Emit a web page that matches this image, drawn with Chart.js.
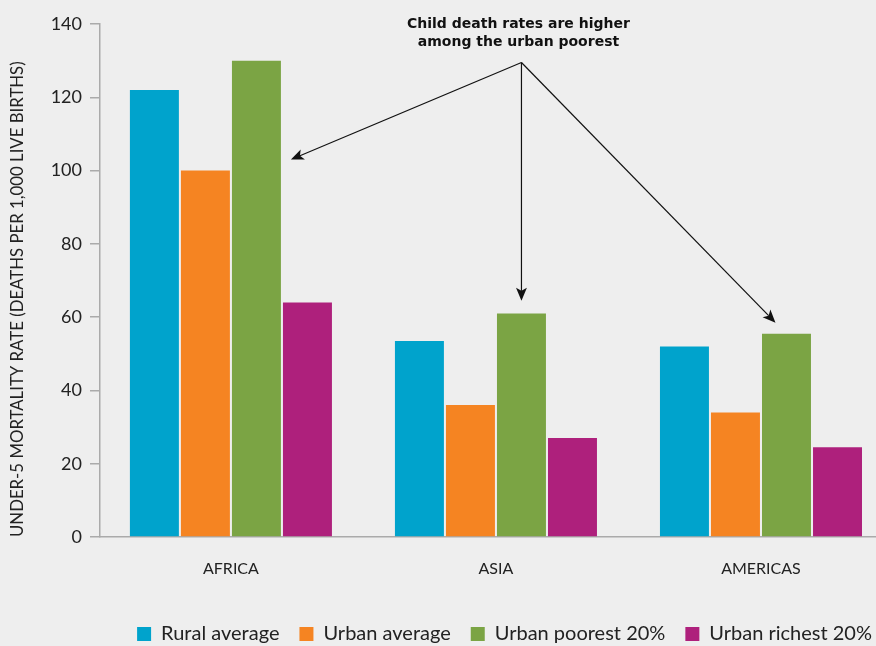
<!DOCTYPE html>
<html>
<head>
<meta charset="utf-8">
<script src="https://cdn.jsdelivr.net/npm/chart.js@4.4.0/dist/chart.umd.min.js"></script>
<style>
  html, body { margin: 0; padding: 0; background: #eeeeee; }
  #wrap { width: 876px; height: 646px; }
</style>
</head>
<body>
<div id="wrap"><canvas id="chart"></canvas></div>
<script>
const regions = ["AFRICA", "ASIA", "AMERICAS"]
const ruralAverage = [122, 53.5, 52]
const urbanAverage = [100, 36, 34]
const urbanPoorest = [130, 61, 55.5]
const urbanRichest = [64, 27, 24.5]
const yTicks = [0, 20, 40, 60, 80, 100, 120, 140]

const FONT = "Lato, 'Open Sans', sans-serif"
const TEXT = "#222222"
const AXIS = "#aaaaaa"

const toPoints = (arr) => arr.map((v, i) => ({ x: i, y: v }))

// callout text and the three arrows, anchored to the green bars
const calloutPlugin = {
    id: "callout",
    afterLayout(chart) {
        // legend in the original runs flush to the right edge
        chart.legend.left += 16
        chart.legend.right += 16
    },
    afterDraw(chart) {
        const ctx = chart.ctx
        const y = chart.scales.y
        const green = chart.getDatasetMeta(2).data
        const apex = { x: green[1].x, y: y.getPixelForValue(129.5) }
        const targets = [
            { x: green[0].x + green[0].width / 2 + 10, y: y.getPixelForValue(103) },
            { x: green[1].x, y: y.getPixelForValue(64.5) },
            { x: green[2].x - 11, y: y.getPixelForValue(58.5) }
        ]

        ctx.save()
        ctx.fillStyle = "#111"
        ctx.font = "bold 14px 'DejaVu Sans', sans-serif"
        ctx.textAlign = "center"
        ctx.textBaseline = "middle"
        ctx.fillText("Child death rates are higher", apex.x - 3, 24)
        ctx.fillText("among the urban poorest", apex.x - 3, 42)

        ctx.strokeStyle = "#111"
        ctx.lineWidth = 1.2
        targets.forEach(t => {
            const ang = Math.atan2(t.y - apex.y, t.x - apex.x)
            const len = 14
            const back = { x: t.x - Math.cos(ang) * len * 0.7, y: t.y - Math.sin(ang) * len * 0.7 }
            ctx.beginPath()
            ctx.moveTo(apex.x, apex.y)
            ctx.lineTo(back.x, back.y)
            ctx.stroke()
            ctx.beginPath()
            ctx.moveTo(t.x, t.y)
            ctx.lineTo(t.x - Math.cos(ang - 0.4) * len, t.y - Math.sin(ang - 0.4) * len)
            ctx.lineTo(back.x, back.y)
            ctx.lineTo(t.x - Math.cos(ang + 0.4) * len, t.y - Math.sin(ang + 0.4) * len)
            ctx.closePath()
            ctx.fill()
        })
        ctx.restore()
    }
}

const bgPlugin = {
    id: "bg",
    beforeDraw(chart) {
        const ctx = chart.ctx
        ctx.save()
        ctx.fillStyle = "#eeeeee"
        ctx.fillRect(0, 0, chart.width, chart.height)
        ctx.restore()
    }
}

const ctx = document.getElementById("chart").getContext("2d")
const chart = new Chart(ctx, {
    type: "bar",
    data: {
        datasets: [
            { label: "Rural average", data: toPoints(ruralAverage), backgroundColor: "#00a3cc" },
            { label: "Urban average", data: toPoints(urbanAverage), backgroundColor: "#f58422" },
            { label: "Urban poorest 20%", data: toPoints(urbanPoorest), backgroundColor: "#7ba444" },
            { label: "Urban richest 20%", data: toPoints(urbanRichest), backgroundColor: "#ae207c" }
        ]
    },
    options: {
        responsive: true,
        maintainAspectRatio: false,
        animation: false,
        datasets: {
            bar: { categoryPercentage: 0.77, barPercentage: 0.96, borderWidth: 0 }
        },
        layout: { padding: { top: 24, right: 0, bottom: -8, left: 0 } },
        plugins: {
            tooltip: { enabled: false },
            legend: {
                position: "bottom",
                align: "end",
                labels: {
                    boxWidth: 14,
                    boxHeight: 14,
                    padding: 20,
                    color: TEXT,
                    font: { family: FONT, size: 20 }
                }
            }
        },
        scales: {
            x: {
                type: "linear",
                offset: false,
                min: -0.494,
                max: 2.434,
                grid: { display: false, offset: false },
                border: { display: true, color: AXIS, width: 1.5 },
                afterBuildTicks: (scale) => { scale.ticks = regions.map((r, i) => ({ value: i })) },
                ticks: {
                    padding: 14,
                    color: TEXT,
                    font: { family: FONT, size: 16 },
                    maxRotation: 0,
                    callback: (v) => regions[v]
                },
                afterFit: (scale) => { scale.height = 67 }
            },
            y: {
                min: 0,
                max: 140,
                afterBuildTicks: (scale) => { scale.ticks = yTicks.map(v => ({ value: v })) },
                grid: { drawOnChartArea: false, drawTicks: true, tickLength: 10, color: AXIS, lineWidth: 1.5 },
                border: { display: true, color: AXIS, width: 1.5 },
                ticks: {
                    padding: 8,
                    color: TEXT,
                    font: { family: FONT, size: 18 }
                },
                title: {
                    display: true,
                    align: "start",
                    text: "UNDER-5 MORTALITY RATE (DEATHS PER 1,000 LIVE BIRTHS)",
                    color: TEXT,
                    font: { family: FONT, size: 16.8 },
                    padding: { top: 8, bottom: 0 }
                },
                afterFit: (scale) => { scale.width = 100 }
            }
        }
    },
    plugins: [bgPlugin, calloutPlugin]
})
</script>
</body>
</html>
